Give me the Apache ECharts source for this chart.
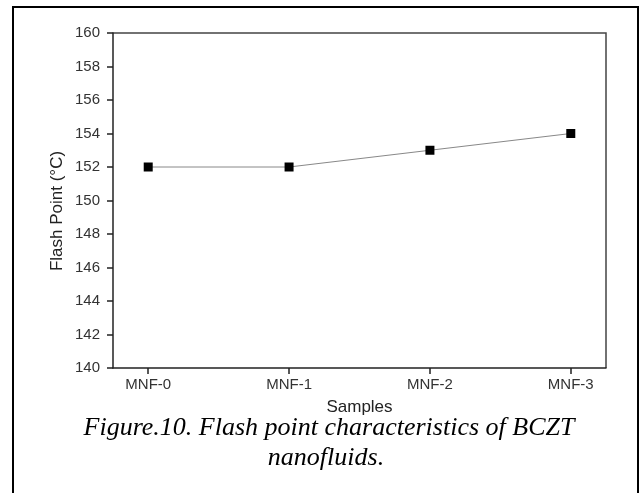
<!DOCTYPE html>
<html>
<head>
<meta charset="utf-8">
<script src="https://cdn.jsdelivr.net/npm/echarts@6/dist/echarts.min.js"></script>
<style>
  html, body { margin: 0; padding: 0; background: #fff; }
  #chart { width: 640px; height: 493px; }
</style>
</head>
<body>
<div id="chart"></div>
<script>
// Sample names and measured flash points (°C)
var samples = ['MNF-0', 'MNF-1', 'MNF-2', 'MNF-3'];
var flashPoint = [152, 152, 153, 154];
var yTicks = [140, 142, 144, 146, 148, 150, 152, 154, 156, 158, 160];

var chart = echarts.init(document.getElementById('chart'));
var positions = samples.map(function (_, i) { return i; });
var seriesData = samples.map(function (_, i) { return [i, flashPoint[i]]; });

chart.setOption({
  animation: false,
  backgroundColor: '#fff',
  grid: { left: 113, top: 33, width: 493, height: 335 },
  xAxis: {
    type: 'value',
    min: -0.25,
    max: 3.25,
    name: 'Samples',
    nameLocation: 'middle',
    nameGap: 31,
    nameTextStyle: { fontFamily: 'Liberation Sans', fontSize: 17, color: '#222', verticalAlign: 'top' },
    axisLine: { show: true, onZero: false, lineStyle: { color: '#222', width: 1.5 } },
    axisTick: { show: true, length: 6, lineStyle: { color: '#222', width: 1.5 }, customValues: positions },
    axisLabel: {
      customValues: positions,
      margin: 9,
      fontFamily: 'Liberation Sans', fontSize: 15, color: '#333',
      formatter: function (v) { return samples[Math.round(v)]; }
    },
    splitLine: { show: false }
  },
  yAxis: {
    type: 'value',
    min: 140,
    max: 160,
    interval: 2,
    axisLine: { show: true, onZero: false, lineStyle: { color: '#222', width: 1.5 } },
    axisTick: { show: true, length: 6, lineStyle: { color: '#222', width: 1.5 } },
    axisLabel: {
      margin: 13,
      fontFamily: 'Liberation Sans', fontSize: 15, color: '#333',
      formatter: function (v) { return yTicks.indexOf(v) >= 0 ? String(v) : ''; }
    },
    splitLine: { show: false }
  },
  graphic: [
    // frame around the figure
    { type: 'rect', shape: { x: 13, y: 7, width: 625, height: 500 }, style: { fill: 'none', stroke: '#000', lineWidth: 2 } },
    // top and right box edges of the plot
    { type: 'polyline', shape: { points: [[113, 33], [606, 33], [606, 368]] }, style: { fill: 'none', stroke: '#444', lineWidth: 1.5 } },
    // y-axis title
    { type: 'text', x: 57, y: 211, rotation: Math.PI / 2, style: { text: 'Flash Point (°C)', font: '17px "Liberation Sans"', fill: '#222', align: 'center', verticalAlign: 'middle' } },
    // figure caption
    { type: 'text', style: { x: 329, y: 428, text: 'Figure.10. Flash point characteristics of BCZT', font: 'italic 26px "Liberation Serif"', fill: '#000', align: 'center', verticalAlign: 'middle' } },
    { type: 'text', style: { x: 326, y: 458, text: 'nanofluids.', font: 'italic 26px "Liberation Serif"', fill: '#000', align: 'center', verticalAlign: 'middle' } }
  ],
  series: [{
    type: 'line',
    data: seriesData,
    symbol: 'rect',
    symbolSize: 9,
    itemStyle: { color: '#000' },
    lineStyle: { color: '#888', width: 1 }
  }]
});
</script>
</body>
</html>
